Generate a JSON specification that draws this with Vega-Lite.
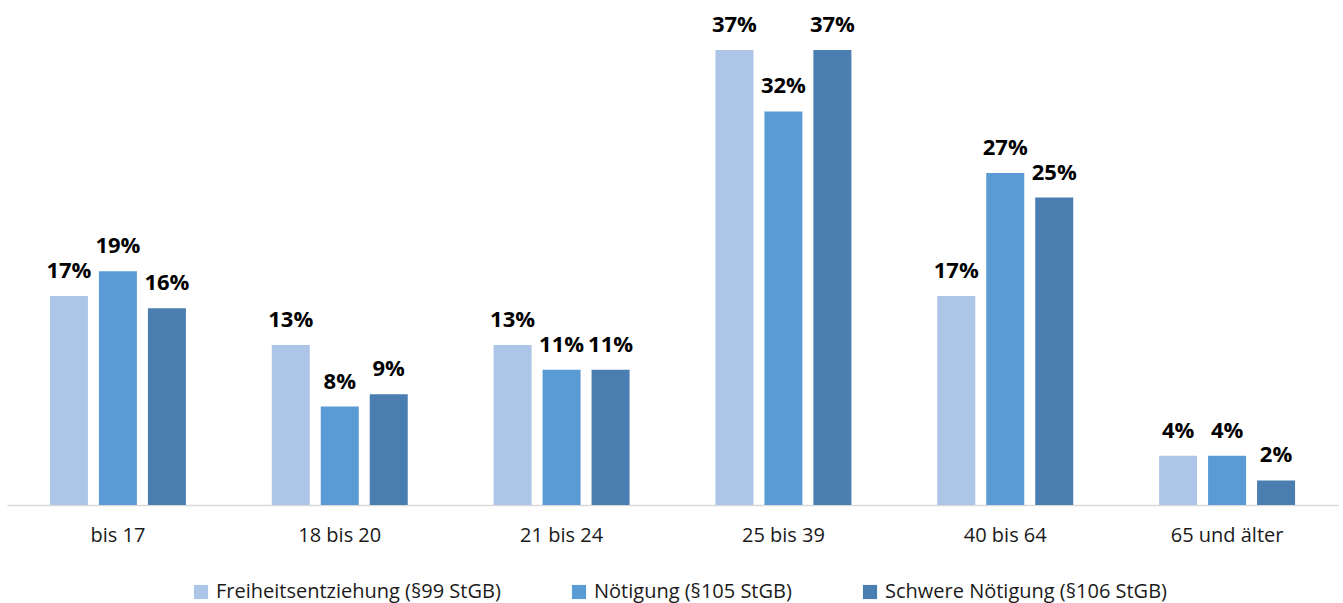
{
  "$schema": "https://vega.github.io/schema/vega-lite/v6.json",
  "autosize": {"type": "none"},
  "width": 1331,
  "height": 492,
  "padding": {"left": 7, "top": 13, "right": 5, "bottom": 98},
  "background": "white",
  "config": {"view": {"stroke": null}, "font": "Open Sans"},
  "data": {
    "values": [
      {"age": "bis 17", "series": "Freiheitsentziehung (§99 StGB)", "value": 0.17},
      {"age": "bis 17", "series": "Nötigung (§105 StGB)", "value": 0.19},
      {"age": "bis 17", "series": "Schwere Nötigung (§106 StGB)", "value": 0.16},
      {"age": "18 bis 20", "series": "Freiheitsentziehung (§99 StGB)", "value": 0.13},
      {"age": "18 bis 20", "series": "Nötigung (§105 StGB)", "value": 0.08},
      {"age": "18 bis 20", "series": "Schwere Nötigung (§106 StGB)", "value": 0.09},
      {"age": "21 bis 24", "series": "Freiheitsentziehung (§99 StGB)", "value": 0.13},
      {"age": "21 bis 24", "series": "Nötigung (§105 StGB)", "value": 0.11},
      {"age": "21 bis 24", "series": "Schwere Nötigung (§106 StGB)", "value": 0.11},
      {"age": "25 bis 39", "series": "Freiheitsentziehung (§99 StGB)", "value": 0.37},
      {"age": "25 bis 39", "series": "Nötigung (§105 StGB)", "value": 0.32},
      {"age": "25 bis 39", "series": "Schwere Nötigung (§106 StGB)", "value": 0.37},
      {"age": "40 bis 64", "series": "Freiheitsentziehung (§99 StGB)", "value": 0.17},
      {"age": "40 bis 64", "series": "Nötigung (§105 StGB)", "value": 0.27},
      {"age": "40 bis 64", "series": "Schwere Nötigung (§106 StGB)", "value": 0.25},
      {"age": "65 und älter", "series": "Freiheitsentziehung (§99 StGB)", "value": 0.04},
      {"age": "65 und älter", "series": "Nötigung (§105 StGB)", "value": 0.04},
      {"age": "65 und älter", "series": "Schwere Nötigung (§106 StGB)", "value": 0.02}
    ]
  },
  "encoding": {
    "x": {
      "field": "age", "type": "nominal", "sort": null,
      "scale": {"paddingInner": 0.387, "paddingOuter": 0.1935},
      "axis": {"title": null, "labelAngle": 0, "ticks": false, "domainColor": "#D9D9D9", "domainWidth": 1.5,
               "labelFontSize": 20, "labelColor": "#1a1a1a", "labelPadding": 20, "labelFont": "Open Sans"}
    },
    "xOffset": {"field": "series", "type": "nominal", "sort": null, "scale": {"paddingInner": 0.224, "paddingOuter": 0}},
    "y": {"field": "value", "type": "quantitative", "scale": {"domain": [0, 0.4]}, "axis": null}
  },
  "layer": [
    {
      "mark": {"type": "bar"},
      "encoding": {
        "color": {
          "field": "series", "type": "nominal", "sort": null,
          "scale": {"range": ["#ADC6E7", "#5B9BD5", "#4A7EB0"]},
          "legend": {"title": null, "orient": "none", "legendX": 184, "legendY": 569, "direction": "horizontal", "symbolType": "square",
                     "symbolSize": 200, "symbolStrokeWidth": 0, "labelFontSize": 20, "labelColor": "#1a1a1a", "labelLimit": 0,
                     "labelFont": "Open Sans", "columnPadding": 68, "labelOffset": 5}
        }
      }
    },
    {
      "mark": {"type": "text", "baseline": "bottom", "dy": -13, "fontSize": 22, "fontWeight": "bold", "color": "#000000", "font": "Open Sans"},
      "encoding": {"text": {"field": "value", "type": "quantitative", "format": ".0%"}, "detail": {"field": "series"}}
    }
  ]
}
